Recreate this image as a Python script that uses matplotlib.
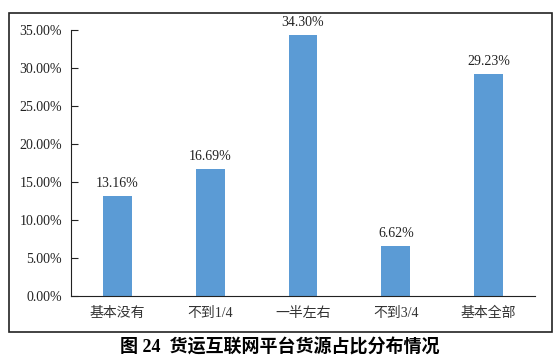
import matplotlib
matplotlib.use('Agg')
import matplotlib.pyplot as plt
import matplotlib.patches as patches
from matplotlib.ticker import PercentFormatter

categories = ['基本没有', '不到1/4', '一半左右', '不到3/4', '基本全部']
shares = [13.16, 16.69, 34.30, 6.62, 29.23]
yticks = [0, 5, 10, 15, 20, 25, 30, 35]
title = '图 24  货运互联网平台货源占比分布情况'

fonts = ['Liberation Serif', 'Noto Sans CJK SC']
plt.rcParams['font.family'] = fonts

fig = plt.figure(figsize=(5.59, 3.63), dpi=100)
ax = fig.add_axes([0.127, 0.1846, 0.83, 0.7324])

x = range(len(categories))
ax.bar(x, shares, width=0.31, color='#5B9BD5')
for i, v in zip(x, shares):
    ax.text(i, v + 0.8, '{:.2f}%'.format(v), ha='center', va='bottom',
            fontsize=10, color='#222222')

ax.set_xlim(-0.5, len(categories) - 0.5)
ax.set_ylim(0, 35)
ax.set_yticks(yticks)
ax.yaxis.set_major_formatter(PercentFormatter(decimals=2))
ax.set_xticks(list(x))
ax.set_xticklabels(categories)
ax.tick_params(axis='y', direction='in', length=5, labelsize=10,
               colors='#222222', pad=6.5)
ax.tick_params(axis='x', length=0, labelsize=10, colors='#333333', pad=8)
for side in ['top', 'right']:
    ax.spines[side].set_visible(False)
ax.spines['left'].set_color('#222222')
ax.spines['bottom'].set_color('#222222')

frame = patches.Rectangle((0.016, 0.0854), 0.9715, 0.8786, transform=fig.transFigure,
                          fill=False, linewidth=1.2, edgecolor='#222222')
fig.patches.append(frame)

fig.text(0.5, 0.042, title, ha='center', va='center', fontsize=13,
         fontweight='bold', family=fonts)

fig.savefig('out.png', dpi=100)
